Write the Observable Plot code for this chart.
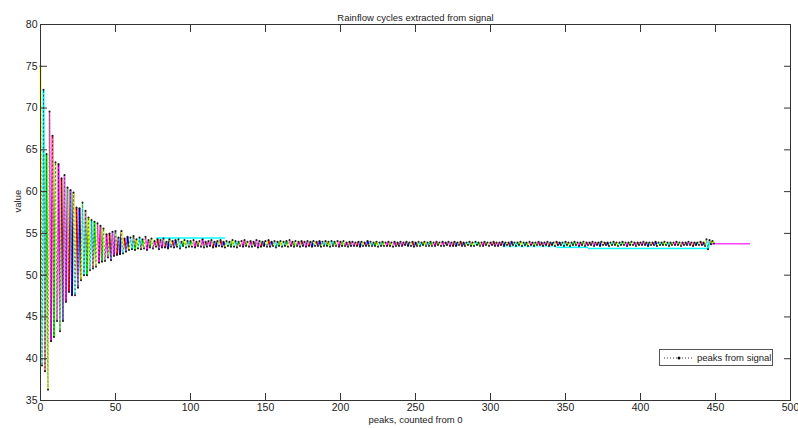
<!DOCTYPE html>
<html><head><meta charset="utf-8">
<script src="https://cdn.jsdelivr.net/npm/d3@7"></script>
<script src="https://cdn.jsdelivr.net/npm/@observablehq/plot@0.6"></script>
<style>
body{margin:0;background:#fff;}
#wrap{position:relative;width:798px;height:428px;font-family:"Liberation Sans",Arial,sans-serif;}
#legend{position:absolute;left:659px;top:349px;width:112px;height:15px;border:1px solid #555;background:#fff;font-size:9.5px;display:flex;align-items:center;color:#222;}
#legend svg{margin:0 2px 0 3px;}
</style></head><body><div id="wrap"></div>
<script>
// ---- data ----
const titleText = "Rainflow cycles extracted from signal";
const xLabel = "peaks, counted from 0";
const yLabel = "value";
const legendLabel = "peaks from signal";
const xTicks = [0,50,100,150,200,250,300,350,400,450,500];
const yTicks = [35,40,45,50,55,60,65,70,75,80];

// peak values, index = peak number counted from 0
const peakValues = [
75.0,39.2,72.2,38.5,64.5,36.3,69.6,42.1,66.7,42.6,
63.5,44.5,63.3,43.3,61.6,44.5,62.0,46.8,60.5,48.0,
60.2,47.6,59.9,47.6,58.1,48.5,58.0,49.4,58.7,50.0,
57.7,50.0,56.9,50.6,56.6,50.8,56.4,51.0,56.2,51.5,
55.9,51.6,55.6,51.7,54.9,52.1,55.0,51.8,55.2,52.3,
55.3,52.4,54.5,52.5,55.3,52.6,54.4,52.8,54.6,53.0,
54.5,53.1,54.7,53.0,54.3,53.2,
54.5,53.1,54.3,53.2,54.6,53.0,54.2,53.3,54.4,53.2,54.1,53.4,54.3,53.1,54.2,53.3,54.4,53.3,54.0,53.2,54.3,53.4,54.1,53.3,54.2,53.4,54.3,53.2,54.0,53.5,54.2,53.3,54.1,53.4,
54.1,53.4,54.2,53.3,54.0,53.5,54.1,53.4,54.3,53.3,
54.0,53.4,54.1,53.5,54.2,53.3,54.0,53.4,54.1,53.5,
54.2,53.4,54.0,53.3,54.1,53.5,54.0,53.4,54.2,53.4,
54.1,53.3,54.0,53.5,54.1,53.4,54.2,53.5,54.0,53.4,
54.1,53.4,54.0,53.5,54.2,53.3,54.1,53.4,54.0,53.5,
54.1,53.4,54.2,53.4,54.0,53.5,54.1,53.3,54.0,53.5,
54.1,53.4,54.0,53.5,54.1,53.4,54.2,53.5,54.0,53.4,
54.1,53.5,54.0,53.4,54.1,53.5,54.0,53.4,54.1,53.5,
54.0,53.4,54.1,53.5,54.0,53.5,54.1,53.4,54.0,53.5,
54.1,53.5,54.0,53.4,54.1,53.5,54.0,53.5,54.1,53.4,
54.0,53.5,54.1,53.5,53.9,53.4,54.0,53.5,54.0,53.5,
53.9,53.5,54.0,53.4,54.0,53.5,53.9,53.5,54.1,53.5,
54.0,53.5,53.9,53.5,54.0,53.4,53.9,53.5,54.0,53.5,
53.9,53.5,54.0,53.5,53.9,53.4,54.0,53.5,53.9,53.5,
54.0,53.5,53.9,53.6,54.0,53.5,53.9,53.5,54.0,53.4,
53.9,53.5,54.0,53.5,53.9,53.6,54.0,53.5,53.9,53.5,
54.0,53.5,53.9,53.5,54.0,53.6,53.9,53.5,54.0,53.5,
53.9,53.6,54.0,53.5,53.9,53.5,54.0,53.5,53.9,53.6,
54.0,53.5,53.9,53.5,53.9,53.6,54.0,53.5,53.9,53.5,
54.0,53.6,53.9,53.5,53.9,53.5,54.0,53.6,53.9,53.5,
53.9,53.6,54.0,53.5,53.9,53.5,53.9,53.6,54.0,53.5,
53.9,53.6,53.9,53.5,54.0,53.6,53.9,53.5,53.9,53.6,
54.0,53.5,53.9,53.6,53.9,53.5,54.0,53.6,53.9,53.5,
53.9,53.6,54.0,53.6,53.9,53.5,53.9,53.6,54.0,53.5,
53.9,53.6,53.9,53.5,54.0,53.6,53.9,53.6,53.9,53.5,
54.0,53.6,53.9,53.5,53.9,53.6,54.0,53.6,53.9,53.5,
53.9,53.6,54.0,53.5,53.9,53.6,53.9,53.6,54.0,53.5,
53.9,53.6,53.9,53.5,54.0,53.6,53.9,53.6,53.9,53.5,
53.9,53.6,54.0,53.6,53.9,53.5,53.9,53.6,54.0,53.6,
53.9,53.5,53.9,53.6,54.0,53.6,53.9,53.5,53.9,53.6,
53.9,53.6,54.0,53.6,53.9,53.5,53.9,53.6,53.9,53.6,
54.0,53.5,53.9,53.6,53.9,53.6,54.0,53.6,53.9,53.5,
53.9,53.6,53.9,53.6,54.0,53.6,53.9,53.5,53.9,53.6,
53.9,53.6,54.0,53.6,53.9,53.5,53.9,53.6,53.9,53.6,
54.0,53.6,53.9,53.5,54.3,53.1,54.2,53.7,54.1,53.8
];

// long rainflow cycles spanning many peaks
const longStart = [77, 308, 344, 365, 447];
const longEnd   = [123, 344, 365, 445, 473];
const longValue = [54.45, 53.42, 53.33, 53.18, 53.77];
const longKind  = ["c", "lc", "c", "c", "m"];

// ---- styles ----
const palette = ["#ffff00","#ff00ff","#00ffff","#ff0000","#00ff00","#0000ff","#ff80ff","#80ffff","#80ff80","#ff8080","#8080ff","#ffff80"];
const kindColor = {c:"#00ffff", lc:"#80ffff", m:"#ff40ff"};

const peaks = peakValues.map((v, i) => ({i, v}));
const segments = [];
for (let i = 0; i < peakValues.length - 1; i++) {
  segments.push({x1: i, y1: peakValues[i], x2: i + 1, y2: peakValues[i + 1], color: palette[(i * 7 + (i >> 3)) % palette.length]});
}
const longSegs = longStart.map((s, k) => ({x1: s, x2: longEnd[k], y: longValue[k], color: kindColor[longKind[k]]}));

const chart = Plot.plot({
  width: 798, height: 428,
  marginLeft: 40, marginRight: 8, marginTop: 24, marginBottom: 28,
  style: {fontFamily: "Liberation Sans, Arial, sans-serif", fontSize: "10px", background: "white", color: "#222"},
  x: {domain: [0, 500]},
  y: {domain: [35, 80]},
  marks: [
    Plot.link(segments, {x1: "x1", y1: "y1", x2: "x2", y2: "y2", stroke: "color", strokeWidth: 1.8}),
    Plot.link(longSegs, {x1: "x1", y1: "y", x2: "x2", y2: "y", stroke: "color", strokeWidth: 1.5}),
    Plot.line(peaks, {x: "i", y: "v", stroke: "black", strokeWidth: 0.8, strokeDasharray: "1,3", strokeOpacity: 0.55}),
    Plot.dot(peaks, {x: "i", y: "v", r: 1.0, fill: "black", fillOpacity: 0.85}),
    Plot.frame({stroke: "#333"}),
    Plot.axisY(yTicks, {anchor: "left", tickSize: -7, fill: "none", label: null, stroke: "#333"}),
    Plot.axisY(yTicks, {anchor: "right", tickSize: -7, fill: "none", label: null, stroke: "#333"}),
    Plot.axisX(xTicks, {anchor: "bottom", tickSize: -7, fill: "none", label: null, stroke: "#333"}),
    Plot.axisX(xTicks, {anchor: "top", tickSize: -7, fill: "none", label: null, stroke: "#333"}),
    Plot.axisY(yTicks, {anchor: "left", tickSize: 0, tickPadding: 3, label: null, fill: "#222", fontSize: 10.5}),
    Plot.axisX(xTicks, {anchor: "bottom", tickSize: 0, tickPadding: 3, label: null, fill: "#222", fontSize: 10.5}),
    Plot.text([titleText], {frameAnchor: "top", dy: -10, fontSize: 9.5, fill: "#222"}),
    Plot.text([xLabel], {frameAnchor: "bottom", dy: 22, fontSize: 9.5, fill: "#222"}),
    Plot.text([yLabel], {frameAnchor: "left", dx: -23, rotate: -90, fontSize: 9.5, fill: "#222"})
  ]
});
const wrap = document.getElementById("wrap");
wrap.appendChild(chart);
const leg = document.createElement("div");
leg.id = "legend";
leg.innerHTML = '<svg width="32" height="10"><line x1="1" y1="5" x2="31" y2="5" stroke="#333" stroke-dasharray="1,2"/><circle cx="16" cy="5" r="1.5" fill="black"/></svg><span></span>';
leg.querySelector("span").textContent = legendLabel;
wrap.appendChild(leg);
</script>
</body></html>
